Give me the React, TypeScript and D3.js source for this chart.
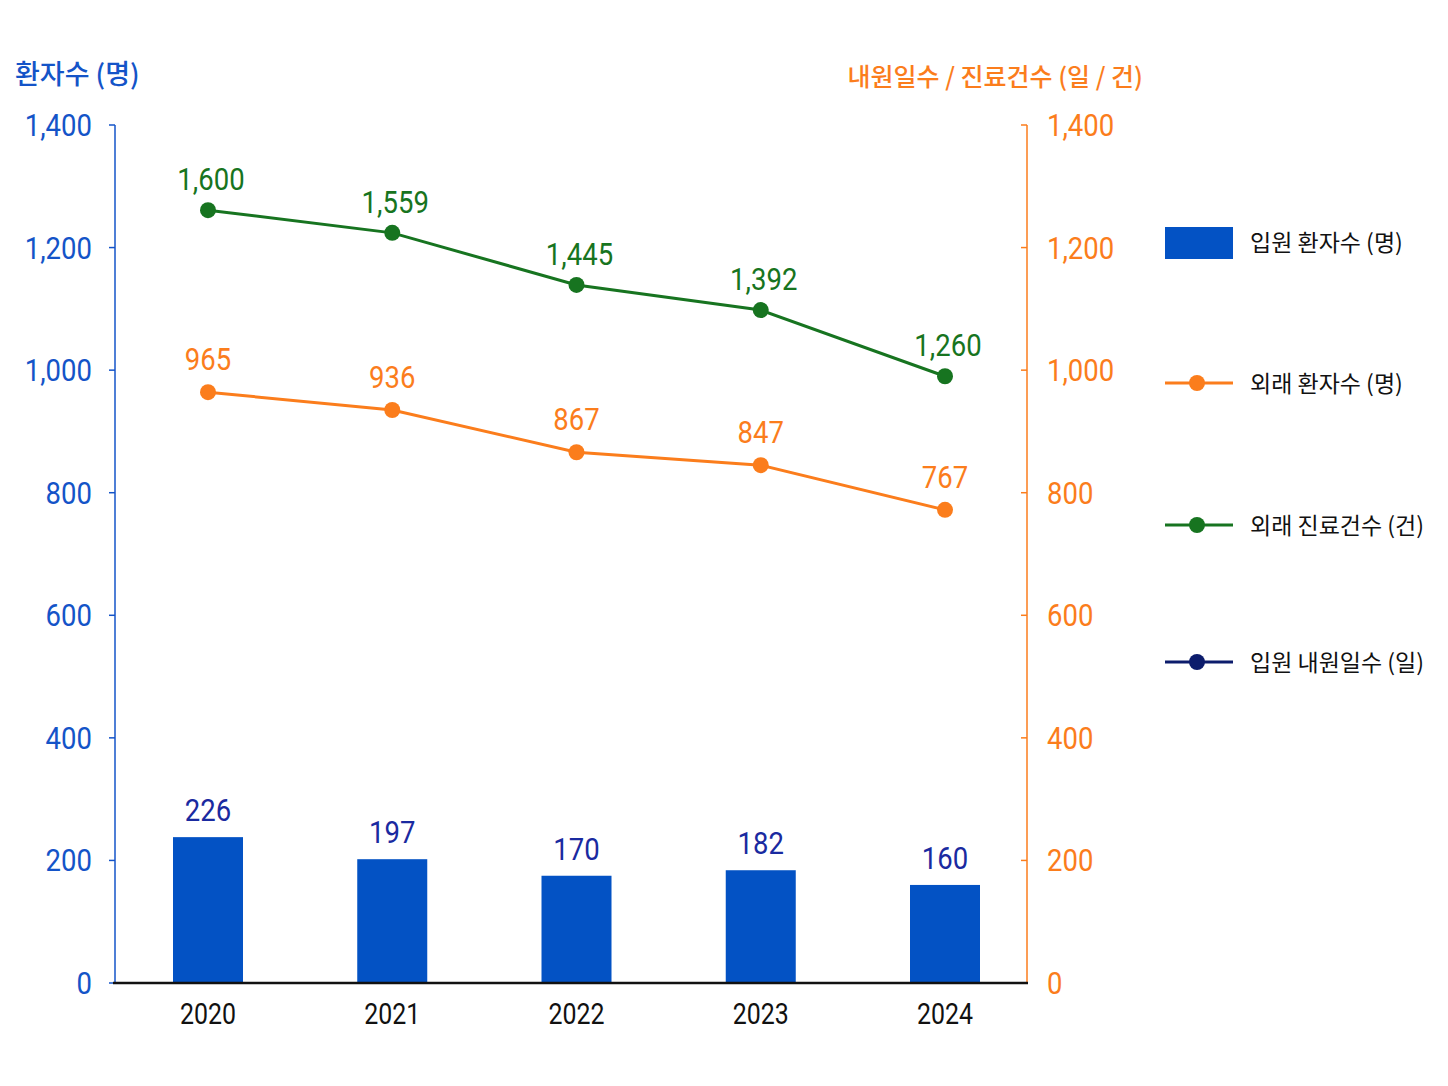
import React from "react";
import * as d3 from "d3";

const years = ["2020", "2021", "2022", "2023", "2024"];
const inpatientBars = [238, 202, 175, 184, 160];
const inpatientLabels = ["226", "197", "170", "182", "160"];
const outpatientPatients = [964, 935, 866, 845, 772];
const outpatientLabels = ["965", "936", "867", "847", "767"];
const outpatientVisits = [1261, 1224, 1139, 1098, 990];
const outpatientVisitLabels = ["1,600", "1,559", "1,445", "1,392", "1,260"];
const ticks = [0, 200, 400, 600, 800, 1000, 1200, 1400];

const BLUE = "#1454c8";
const BAR = "#0352c4";
const ORANGE = "#fb7d1c";
const GREEN = "#177420";
const NAVY = "#0c1c6c";
const LABELBLUE = "#1a2aa0";
const NUM = "'Roboto', sans-serif";
const KR = "'Noto Sans CJK KR', sans-serif";
const BW = 70;

function T(props: any) {
  // condensed-looking numeric text
  const { x, y, anchor, children, ...rest } = props;
  return (
    <text transform={`translate(${x},${y}) scale(0.86,1)`} textAnchor={anchor} fontFamily={NUM} {...rest}>
      {children}
    </text>
  );
}

export default function App() {
  const x = d3.scalePoint<string>().domain(years).range([208, 945]);
  const y = d3.scaleLinear().domain([0, 1400]).range([983, 125]);
  const cx = (d: string) => x(d) as number;
  const lineGen = (vals: number[]) =>
    d3.line<number>().x((_, i) => cx(years[i])).y((v) => y(v))(vals) as string;
  const fmt = d3.format(",");

  return (
    <svg width={1448} height={1086} style={{ position: "absolute", left: 0, top: 0, background: "#fff" }}>
      <text x={15} y={84} fill={BLUE} fontFamily={KR} fontSize={27} fontWeight={500}>환자수 (명)</text>
      <text x={1143} y={86} fill={ORANGE} fontFamily={KR} fontSize={25} fontWeight={500} textAnchor="end">내원일수 / 진료건수 (일 / 건)</text>

      <line x1={115} x2={115} y1={125} y2={983} stroke={BLUE} strokeWidth={1.5} />
      {ticks.map((t) => (
        <g key={"l" + t}>
          <line x1={109} x2={115} y1={y(t)} y2={y(t)} stroke={BLUE} strokeWidth={1.5} />
          <T x={92} y={y(t) + 11} fill={BLUE} fontSize={32} anchor="end">{fmt(t)}</T>
        </g>
      ))}
      <line x1={1027} x2={1027} y1={125} y2={983} stroke={ORANGE} strokeWidth={1.5} />
      {ticks.map((t) => (
        <g key={"r" + t}>
          <line x1={1027} x2={1021} y1={y(t)} y2={y(t)} stroke={ORANGE} strokeWidth={1.5} />
          <T x={1047} y={y(t) + 11} fill={ORANGE} fontSize={32} anchor="start">{fmt(t)}</T>
        </g>
      ))}

      {years.map((yr, i) => (
        <g key={"b" + yr}>
          <rect x={cx(yr) - BW / 2} y={y(inpatientBars[i])} width={BW} height={983 - y(inpatientBars[i])} fill={BAR} />
          <T x={cx(yr)} y={y(inpatientBars[i]) - 16} fill={LABELBLUE} fontSize={32} anchor="middle">{inpatientLabels[i]}</T>
          <T x={cx(yr)} y={1024} fill="#111" fontSize={29} anchor="middle">{yr}</T>
        </g>
      ))}
      <line x1={113} x2={1028} y1={983} y2={983} stroke="#111" strokeWidth={2.5} />

      <path d={lineGen(outpatientPatients)} fill="none" stroke={ORANGE} strokeWidth={3} />
      <path d={lineGen(outpatientVisits)} fill="none" stroke={GREEN} strokeWidth={3} />
      {years.map((yr, i) => (
        <g key={"p" + yr}>
          <circle cx={cx(yr)} cy={y(outpatientPatients[i])} r={8} fill={ORANGE} />
          <T x={cx(yr)} y={y(outpatientPatients[i]) - 22} fill={ORANGE} fontSize={32} anchor="middle">{outpatientLabels[i]}</T>
          <circle cx={cx(yr)} cy={y(outpatientVisits[i])} r={8} fill={GREEN} />
          <T x={cx(yr) + 3} y={y(outpatientVisits[i]) - 20} fill={GREEN} fontSize={32} anchor="middle">{outpatientVisitLabels[i]}</T>
        </g>
      ))}

      <rect x={1165} y={227} width={68} height={32} fill={BAR} />
      <text x={1250} y={251} fontFamily={KR} fontSize={23} fill="#111">입원 환자수 (명)</text>
      {[
        { c: ORANGE, t: "외래 환자수 (명)", yy: 383 },
        { c: GREEN, t: "외래 진료건수 (건)", yy: 525 },
        { c: NAVY, t: "입원 내원일수 (일)", yy: 662 },
      ].map((l) => (
        <g key={l.t}>
          <line x1={1165} x2={1233} y1={l.yy} y2={l.yy} stroke={l.c} strokeWidth={3} />
          <circle cx={1197} cy={l.yy} r={8} fill={l.c} />
          <text x={1250} y={l.yy + 9} fontFamily={KR} fontSize={23} fill="#111">{l.t}</text>
        </g>
      ))}
    </svg>
  );
}
